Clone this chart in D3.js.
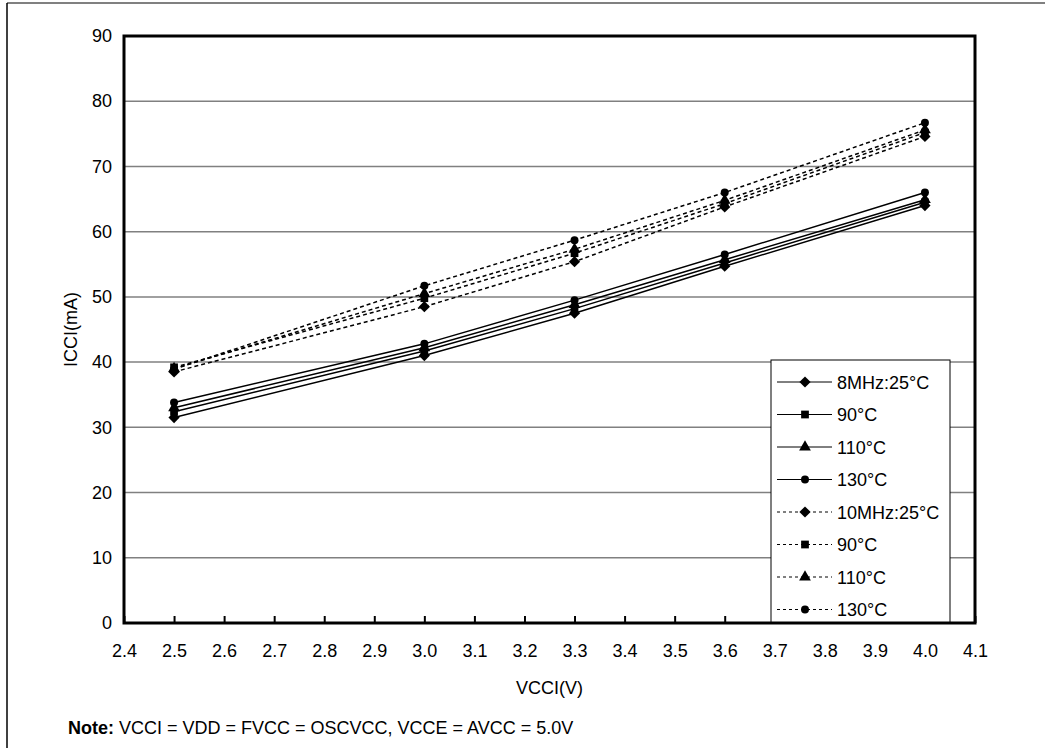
<!DOCTYPE html>
<html>
<head>
<meta charset="utf-8">
<script src="https://cdn.jsdelivr.net/npm/d3@7"></script>
<style>
	body { margin: 0; background: #fff; }
	svg { display: block; font-family: Arial, "Liberation Sans", sans-serif; }
</style>
</head>
<body>
<svg width="1045" height="748"></svg>
<script>
const voltages = [2.5, 3.0, 3.3, 3.6, 4.0];
const xTicks = [2.4, 2.5, 2.6, 2.7, 2.8, 2.9, 3.0, 3.1, 3.2, 3.3, 3.4, 3.5, 3.6, 3.7, 3.8, 3.9, 4.0, 4.1];
const yTicks = [0, 10, 20, 30, 40, 50, 60, 70, 80, 90];
const seriesNames = ['8MHz:25°C', '90°C', '110°C', '130°C', '10MHz:25°C', '90°C', '110°C', '130°C'];
const seriesShapes = ['diamond', 'square', 'triangle', 'circle', 'diamond', 'square', 'triangle', 'circle'];
const seriesDashed = [false, false, false, false, true, true, true, true];

const mhz8_25 = [31.5, 41.0, 47.5, 54.7, 64.0];
const mhz8_90 = [32.4, 41.7, 48.2, 55.2, 64.5];
const mhz8_110 = [33.0, 42.2, 48.8, 55.7, 64.9];
const mhz8_130 = [33.8, 42.8, 49.5, 56.5, 66.0];
const mhz10_25 = [38.5, 48.5, 55.4, 63.8, 74.6];
const mhz10_90 = [39.2, 49.8, 56.7, 64.3, 75.2];
const mhz10_110 = [39.0, 50.5, 57.3, 64.8, 75.6];
const mhz10_130 = [38.9, 51.7, 58.7, 66.0, 76.7];
const seriesValues = [mhz8_25, mhz8_90, mhz8_110, mhz8_130, mhz10_25, mhz10_90, mhz10_110, mhz10_130];

const svg = d3.select('svg');
const margin = {top: 36, right: 70, bottom: 125, left: 124};
const width = Number(svg.attr('width')) - margin.left - margin.right;
const height = Number(svg.attr('height')) - margin.top - margin.bottom;
const fontSize = 18;

// outer frame (runs off the right and bottom edge)
svg.append('line').attr('x1', 7).attr('x2', 1045).attr('y1', 3).attr('y2', 3)
	.attr('stroke', '#808080').attr('stroke-width', 2);
svg.append('line').attr('x1', 7).attr('x2', 7).attr('y1', 3).attr('y2', 748)
	.attr('stroke', '#000').attr('stroke-width', 1.5);

const x = d3.scaleLinear().domain([2.4, 4.1]).range([0, width]);
const y = d3.scaleLinear().domain([0, 90]).range([height, 0]);

const g = svg.append('g')
	.attr('transform', 'translate(' + margin.left + ',' + margin.top + ')');

// gridlines
g.append('g')
	.selectAll('line')
	.data(yTicks.filter(d => d > 0 && d < 90))
	.join('line')
	.attr('x1', 0).attr('x2', width)
	.attr('y1', d => y(d)).attr('y2', d => y(d))
	.attr('stroke', '#808080').attr('stroke-width', 1.5);

// x axis
const xAxis = g.append('g')
	.attr('transform', 'translate(0,' + height + ')')
	.call(d3.axisBottom(x).tickValues(xTicks).tickSizeInner(-7).tickSizeOuter(0).tickPadding(21).tickFormat(d3.format('.1f')));
xAxis.select('.domain').remove();
xAxis.selectAll('line').attr('stroke', '#000').attr('stroke-width', 2);
xAxis.selectAll('text').attr('font-size', fontSize).attr('fill', '#000').attr('font-family', 'Arial, "Liberation Sans", sans-serif');

// y axis
const yAxis = g.append('g')
	.call(d3.axisLeft(y).tickValues(yTicks).tickSize(0).tickPadding(12));
yAxis.select('.domain').remove();
yAxis.selectAll('text').attr('font-size', fontSize).attr('fill', '#000').attr('font-family', 'Arial, "Liberation Sans", sans-serif');

// plot border
g.append('rect')
	.attr('width', width).attr('height', height)
	.attr('fill', 'none').attr('stroke', '#000').attr('stroke-width', 3);

// axis titles
g.append('text')
	.attr('x', width / 2).attr('y', height + 71)
	.attr('text-anchor', 'middle').attr('font-size', fontSize)
	.text('VCCI(V)');
g.append('text')
	.attr('transform', 'translate(-47,' + (height / 2) + ') rotate(-90)')
	.attr('text-anchor', 'middle').attr('font-size', fontSize)
	.text('ICCI(mA)');

const symbolType = {
	diamond: d3.symbolDiamond2,
	square: d3.symbolSquare,
	triangle: d3.symbolTriangle,
	circle: d3.symbolCircle
};
const symbolSize = {diamond: 80, square: 60, triangle: 60, circle: 50};

const line = d3.line().x((d, i) => x(voltages[i])).y(d => y(d));

seriesValues.forEach((vals, s) => {
	g.append('path')
		.datum(vals)
		.attr('d', line)
		.attr('fill', 'none')
		.attr('stroke', '#000')
		.attr('stroke-width', 1.5)
		.attr('stroke-dasharray', seriesDashed[s] ? '4,3' : null);
	g.append('g')
		.selectAll('path')
		.data(vals)
		.join('path')
		.attr('transform', (d, i) => 'translate(' + x(voltages[i]) + ',' + y(d) + ')')
		.attr('d', d3.symbol().type(symbolType[seriesShapes[s]]).size(symbolSize[seriesShapes[s]]))
		.attr('fill', '#000');
});

// legend
const legend = svg.append('g').attr('transform', 'translate(771,360)');
legend.append('rect')
	.attr('width', 179).attr('height', 262)
	.attr('fill', '#fff').attr('stroke', '#000').attr('stroke-width', 1);
seriesNames.forEach((name, s) => {
	const ly = 22 + s * 32.5;
	const item = legend.append('g').attr('transform', 'translate(0,' + ly + ')');
	item.append('line')
		.attr('x1', 6).attr('x2', 61)
		.attr('stroke', '#000').attr('stroke-width', 1)
		.attr('stroke-dasharray', seriesDashed[s] ? '3,3' : null);
	item.append('path')
		.attr('transform', 'translate(34,0)')
		.attr('d', d3.symbol().type(symbolType[seriesShapes[s]]).size(symbolSize[seriesShapes[s]]))
		.attr('fill', '#000');
	item.append('text')
		.attr('x', 66).attr('y', 6.5)
		.attr('font-size', fontSize)
		.text(name);
});

// note
const note = svg.append('text').attr('x', 68).attr('y', 734).attr('font-size', fontSize);
note.append('tspan').attr('font-weight', 'bold').text('Note:');
note.append('tspan').text(' VCCI = VDD = FVCC = OSCVCC, VCCE = AVCC = 5.0V');
</script>
</body>
</html>
